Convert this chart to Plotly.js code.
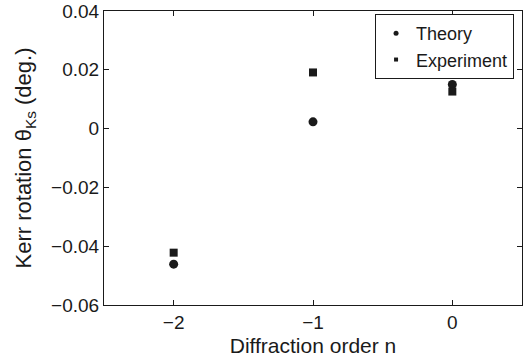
<!DOCTYPE html>
<html>
<head>
<meta charset="utf-8">
<script src="https://cdn.plot.ly/plotly-3.0.1.min.js"></script>
<style>html,body{margin:0;padding:0;background:#fff;}#chart{width:524px;height:363px;}</style>
</head>
<body>
<div id="chart"></div>
<script>
// Data
const orders = [-2, -1, 0];
const theory = [-0.0461, 0.0023, 0.0150];
const experiment = [-0.0422, 0.0191, 0.0126];
const seriesNames = ["Theory", "Experiment"];
const yTicks = [-0.06, -0.04, -0.02, 0, 0.02, 0.04];
const yTickText = ["\u22120.06", "\u22120.04", "\u22120.02", "0", "0.02", "0.04"];
const xTicks = [-2, -1, 0];
const xTickText = ["\u22122", "\u22121", "0"];

const ink = "#1a1a1a";
const font = {family: "Liberation Sans, Arial, sans-serif", color: ink};

const traces = [
  {x: orders, y: theory, type: "scatter", mode: "markers", name: seriesNames[0], showlegend: false,
   marker: {symbol: "circle", size: 9, color: ink}},
  {x: orders, y: experiment, type: "scatter", mode: "markers", name: seriesNames[1], showlegend: false,
   marker: {symbol: "square", size: 8, color: ink}},
  // legend entries (smaller markers, as in the reference legend)
  {x: [null], y: [null], type: "scatter", mode: "markers", name: seriesNames[0],
   marker: {symbol: "circle", size: 5, color: ink}},
  {x: [null], y: [null], type: "scatter", mode: "markers", name: seriesNames[1],
   marker: {symbol: "square", size: 4, color: ink}}
];

const axisCommon = {
  showline: true, linecolor: ink, linewidth: 1, mirror: "ticks",
  ticks: "inside", ticklen: 5, tickwidth: 1, tickcolor: ink,
  showgrid: false, zeroline: false,
  tickfont: Object.assign({size: 19}, font)
};

const layout = {
  width: 524, height: 363,
  margin: {l: 104, r: 2, t: 11, b: 58},
  paper_bgcolor: "#fff", plot_bgcolor: "#fff",
  font: font,
  xaxis: Object.assign({}, axisCommon, {
    range: [-2.5, 0.5], tickvals: xTicks, ticktext: xTickText,
    title: {text: "Diffraction order n", font: Object.assign({size: 21}, font), standoff: 6}
  }),
  yaxis: Object.assign({}, axisCommon, {
    range: [-0.06, 0.04], tickvals: yTicks, ticktext: yTickText,
    title: {text: "Kerr rotation \u03b8<sub>Ks</sub> (deg.)", font: Object.assign({size: 22}, font), standoff: 13}
  }),
  legend: {
    x: 0.981, y: 0.99, xanchor: "right", yanchor: "top",
    bordercolor: ink, borderwidth: 1, bgcolor: "#fff",
    font: Object.assign({size: 18}, font),
    tracegroupgap: 0
  },
  showlegend: true
};

Plotly.newPlot("chart", traces, layout, {displayModeBar: false, staticPlot: true});
</script>
</body>
</html>
